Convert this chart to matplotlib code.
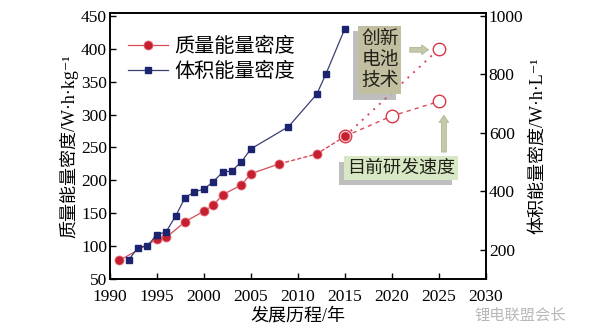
import matplotlib
matplotlib.use("Agg")
import matplotlib.pyplot as plt
import matplotlib.patheffects as pe

FONTS = ["Liberation Serif", "Noto Sans CJK SC", "DejaVu Serif"]
CJK = ["Noto Sans CJK SC", "DejaVu Sans"]
plt.rcParams["font.family"] = FONTS

# measured gravimetric energy density (W·h/kg)
mass_years = [1991, 1995, 1996, 1998, 2000, 2001, 2002, 2004, 2005, 2008, 2012, 2015]
mass_vals = [78, 110, 113, 137, 153, 162, 178, 193, 210, 225, 240, 267]

# measured volumetric energy density (W·h/L), right axis
vol_years = [1992, 1993, 1994, 1995, 1996, 1997, 1998, 1999, 2000, 2001, 2002,
             2003, 2004, 2005, 2009, 2012, 2013, 2015]
vol_vals = [165, 207, 214, 250, 262, 315, 378, 398, 407, 433, 465,
            470, 501, 545, 621, 732, 803, 957]

# projections of gravimetric density
trend_years = [2015, 2020, 2025]
trend_vals = [267, 298, 320]
new_tech_years = [2015, 2025]
new_tech_vals = [267, 400]

RED = "#c42030"
RED_LINE = "#d84a58"
BLUE = "#1c2470"

fig = plt.figure(figsize=(6.0, 3.36), dpi=100)
ax = fig.add_axes([0.183, 0.170, 0.627, 0.792])
ax2 = ax.twinx()

# projections first so the measured points sit on top
ax.plot(new_tech_years, new_tech_vals, ls=(0, (1, 3)), color=RED_LINE, lw=1.4, zorder=2)
ax.plot(trend_years, trend_vals, ls=(0, (3, 3)), color=RED_LINE, lw=1.0, zorder=2)
ax.plot(trend_years + new_tech_years[1:], trend_vals + new_tech_vals[1:], ls="none",
        marker="o", ms=9, mfc="white", mec="#d83848", mew=1.0, zorder=3)

ax.plot(mass_years[:10], mass_vals[:10], color=RED_LINE, lw=0.9, zorder=4)
ax.plot(mass_years[9:], mass_vals[9:], color=RED_LINE, lw=1.0, ls=(0, (3, 1.5)), zorder=4)
ax.plot(mass_years, mass_vals, ls="none", marker="o", ms=6.5, mfc=RED,
        mec="#e87080", mew=0.6, zorder=5)
l_mass, = ax.plot([], [], color=RED_LINE, lw=0.9, marker="o", ms=6.5, mfc=RED,
                  mec="#e87080", mew=0.6)

l_vol, = ax2.plot(vol_years, vol_vals, color="#3a4070", lw=0.9, marker="s", ms=5,
                  mfc=BLUE, mec=BLUE, zorder=5)

ax.set_xlim(1990, 2030)
ax.set_ylim(50, 455)
ax2.set_ylim(100, 1011)
ax.set_xticks(range(1990, 2031, 5))
ax.set_yticks(range(50, 451, 50))
ax2.set_yticks(range(200, 1001, 200))

for a in (ax, ax2):
    a.tick_params(direction="in", length=4, width=1, labelsize=12.5, pad=2)
    for s in a.spines.values():
        s.set_linewidth(1.2)
ax.tick_params(axis="x", pad=7)

ax.set_xlabel("发展历程/年", fontsize=13, labelpad=2)
ax.set_ylabel("质量能量密度/W·h·kg⁻¹", fontsize=13, labelpad=2)
ax2.set_ylabel("体积能量密度/W·h·L⁻¹", fontsize=13, labelpad=4)

leg = ax.legend([l_mass, l_vol], ["质量能量密度", "体积能量密度"], loc="upper left",
                bbox_to_anchor=(0.0, 0.975), frameon=False, fontsize=14.5,
                handlelength=2.0, handletextpad=0.3, labelspacing=0.3)

shadow = [pe.withSimplePatchShadow(offset=(-4, -4), shadow_rgbFace="#707070", alpha=0.45)]

t1 = ax.text(0.718, 0.823, "创新\n电池\n技术", transform=ax.transAxes, ha="center",
             va="center", fontsize=13.5, linespacing=1.0, color="#202018", zorder=6,
             family=CJK,
             bbox=dict(boxstyle="square,pad=0.15", fc="#c2bfa0", ec="none"))
t1.get_bbox_patch().set_path_effects(shadow)

t2 = ax.text(0.774, 0.417, "目前研发速度", transform=ax.transAxes, ha="center",
             va="center", fontsize=13, color="#202018", zorder=6, family=CJK,
             bbox=dict(boxstyle="square,pad=0.15", fc="#d8e8c4", ec="none"))
t2.get_bbox_patch().set_path_effects(shadow)

arrow = dict(arrowstyle="simple,head_width=0.7,head_length=0.5,tail_width=0.35",
             fc="#c4caa8", ec="#a8ae90", lw=0.5)
ax.annotate("", xy=(0.855, 0.861), xytext=(0.79, 0.861), xycoords="axes fraction",
            arrowprops=arrow, zorder=6)
ax.annotate("", xy=(0.888, 0.625), xytext=(0.888, 0.466), xycoords="axes fraction",
            arrowprops=arrow, zorder=6)

fig.text(0.867, 0.062, "锂电联盟会长", fontsize=11, color="#b8b8b8", ha="center",
         va="center", family=CJK)

fig.savefig("out.png", dpi=100, facecolor="white")
